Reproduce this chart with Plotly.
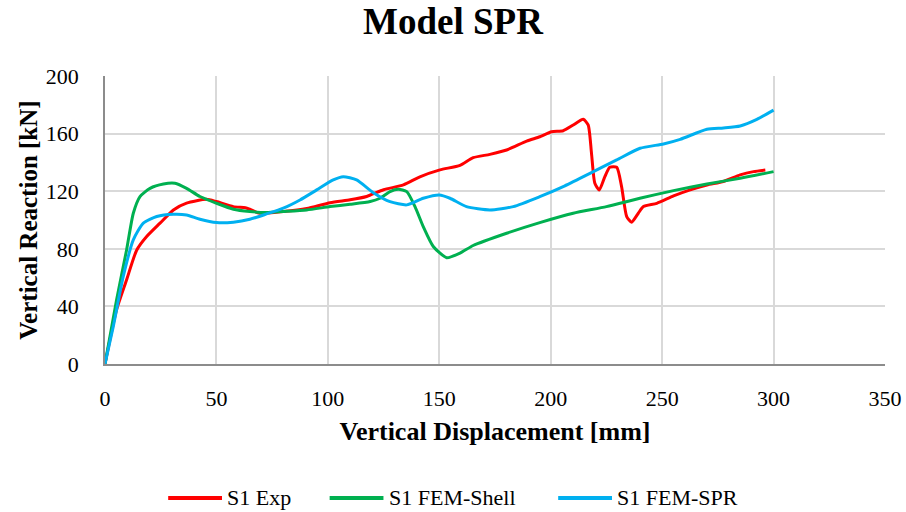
import plotly.graph_objects as go

# Vertical reaction vs displacement for specimen S1
exp_x = [0, 5.2, 9.7, 14.2, 18.7, 24.7, 30.7, 36.6, 45.6, 50, 57.6, 63, 65, 69.5, 80, 90.5, 101, 110,
         117.4, 125, 133.9, 141.3, 150.3, 159.3, 165.2, 172.7, 180.2, 189.2, 195.1, 200.4, 205.6, 210.1,
         214.6, 216.8, 218.3, 219.8, 221.8, 224.3, 226.5, 229.6, 231.8, 234.1, 236.3, 239.3, 241.6,
         247.6, 255.1, 262.6, 270.1, 277.5, 285, 291, 296.3]
exp_y = [0, 37.7, 58.5, 79, 88.5, 97.8, 107, 111.7, 114.4, 112.8, 109.3, 108.5, 107.5, 104.7, 105.9,
         108, 112, 114, 116.3, 121, 124.4, 130, 134.8, 138, 143.3, 145.6, 148.6, 154.8, 157.8, 161.3,
         162, 166, 169.9, 166, 146.3, 125.5, 120.9, 130.1, 136.6, 136.6, 123.2, 102.4, 98.5, 104.7,
         109.3, 111.6, 116.7, 120.9, 124.3, 126.7, 131.3, 133.6, 134.7]

shell_x = [0, 5.2, 9.7, 12.7, 15.7, 20.2, 26.2, 31.4, 36.6, 42.6, 50.1, 57.6, 65, 72.5, 80, 90.5, 101,
           110, 119, 123.4, 127.9, 131.6, 135.4, 139.1, 142.8, 147.3, 153.3, 159.3, 165.2, 180.2,
           195.1, 210.1, 225, 240, 255.1, 270.1, 285, 300]
shell_y = [0, 44.6, 79.3, 104.7, 116.3, 122, 125, 125.5, 122, 116.3, 111.6, 107.5, 105.9, 105.2, 105.9,
           107, 109.3, 110.9, 112.8, 115.1, 119.7, 121.3, 119.7, 109.3, 95.4, 81.6, 73.8, 77, 82.3,
           90.8, 98.2, 104.7, 109.3, 115.1, 120.4, 125, 129, 133.6]

spr_x = [0, 3.7, 8.2, 12.7, 17.2, 23.2, 30.7, 36.6, 42.6, 50.1, 57.6, 65, 72.5, 80, 87.5, 95, 102.4,
         106.9, 112.9, 120.4, 127.9, 135.4, 142.8, 150, 154.8, 162.2, 172.7, 183.2, 195.1, 205.6,
         217.6, 229.6, 240.1, 250.6, 258.1, 270.1, 277.5, 285, 292.5, 300]
spr_y = [0, 26, 60.8, 86.2, 97.8, 102.4, 104, 103.5, 100.5, 98.2, 98.5, 100.5, 104.2, 108.2, 113.9,
         120.9, 127.8, 130.1, 127.8, 119, 112.8, 110.5, 115.1, 117.4, 115.1, 109.3, 107, 109.3, 116.2,
         123.2, 132.4, 141.7, 149.8, 152.8, 156, 163, 163.9, 165.3, 169.9, 176.3]

series_names = ["S1 Exp", "S1 FEM-Shell", "S1 FEM-SPR"]
series_colors = ["#ff0000", "#00b050", "#00b0f0"]

x_ticks = [0, 50, 100, 150, 200, 250, 300, 350]
y_ticks = [0, 40, 80, 120, 160, 200]

SERIF = "Liberation Serif"

fig = go.Figure()
for name, xs, ys, color in zip(series_names, [exp_x, shell_x, spr_x], [exp_y, shell_y, spr_y],
                               series_colors):
    fig.add_trace(go.Scatter(
        x=xs, y=ys, name=name, mode="lines", showlegend=False,
        line=dict(color=color, width=3, shape="spline", smoothing=0.6),
    ))

# Legend row below the axis title: a long colour swatch followed by the series name
legend_y = -0.465
legend_starts = [0.081, 0.288, 0.581]   # swatch left edges, paper units
swatch_len = 0.069
for name, color, x0 in zip(series_names, series_colors, legend_starts):
    fig.add_shape(type="line", xref="paper", yref="paper",
                  x0=x0, x1=x0 + swatch_len, y0=legend_y, y1=legend_y,
                  line=dict(color=color, width=4))
    fig.add_annotation(xref="paper", yref="paper", x=x0 + swatch_len + 0.004, y=legend_y,
                       xanchor="left", yanchor="middle", showarrow=False, text=name,
                       font=dict(family=SERIF, size=22, color="#000000"))

fig.update_layout(
    width=906, height=512,
    paper_bgcolor="white", plot_bgcolor="white",
    margin=dict(l=105, r=21, t=76, b=148, autoexpand=False),
    font=dict(family=SERIF, size=22, color="#000000"),
    title=dict(text="<b>Model SPR</b>", x=0.5, xanchor="center", y=0.958, yanchor="middle",
               font=dict(family=SERIF, size=37, color="#000000")),
    showlegend=False,
)

fig.update_xaxes(
    range=[0, 350], tickvals=x_ticks, ticktext=[str(v) for v in x_ticks],
    showgrid=True, gridcolor="#d9d9d9", gridwidth=1.5,
    showline=True, linecolor="#8c8c8c", linewidth=1.5,
    ticks="", ticklabelstandoff=14, zeroline=False, automargin=False,
    tickfont=dict(family=SERIF, size=22, color="#000000"),
    title=dict(text="<b>Vertical Displacement [mm]</b>", standoff=12,
               font=dict(family=SERIF, size=26, color="#000000")),
)
fig.update_yaxes(
    range=[0, 200], tickvals=y_ticks, ticktext=[str(v) for v in y_ticks],
    showgrid=True, gridcolor="#d9d9d9", gridwidth=1.5,
    showline=True, linecolor="#8c8c8c", linewidth=1.5,
    ticks="", ticklabelstandoff=20, zeroline=False, automargin=False,
    tickfont=dict(family=SERIF, size=22, color="#000000"),
    title=dict(text="<b>Vertical Reaction [kN]</b>", standoff=1,
               font=dict(family=SERIF, size=25, color="#000000")),
)

fig.write_html("out.html")
